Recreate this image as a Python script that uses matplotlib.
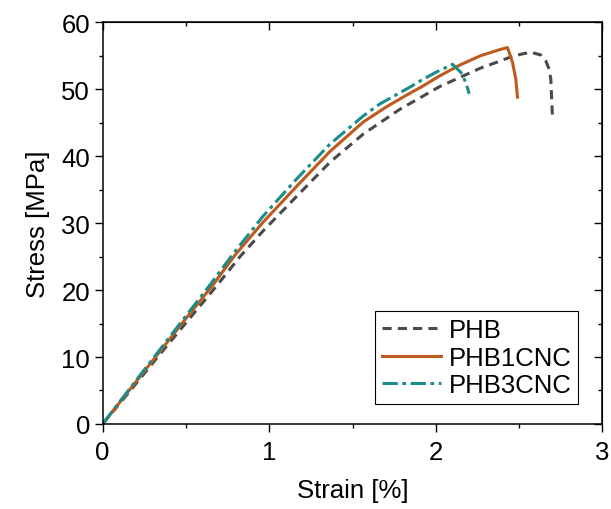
import matplotlib.pyplot as plt
from matplotlib.ticker import MultipleLocator

# Courbes contrainte-déformation
phb_strain = [0, 0.17, 0.34, 0.51, 0.68, 0.825, 0.962, 1.165, 1.365, 1.565, 1.785,
              2.025, 2.265, 2.365, 2.45, 2.51, 2.57, 2.63, 2.66, 2.68, 2.69, 2.70]
phb_stress = [0, 5.1, 10.3, 15.4, 20.5, 25.0, 28.8, 34.0, 39.1, 43.3, 47.0,
              50.4, 53.1, 54.0, 54.8, 55.2, 55.5, 55.1, 54.2, 53.0, 51.5, 45.8]

cnc1_strain = [0, 0.165, 0.33, 0.495, 0.66, 0.794, 0.962, 1.165, 1.365, 1.565, 1.70,
               1.845, 1.905, 2.025, 2.145, 2.27, 2.385, 2.43, 2.46, 2.48, 2.49]
cnc1_stress = [0, 5.2, 10.4, 15.6, 20.7, 25.2, 30.1, 35.5, 40.7, 45.1, 47.3,
               49.4, 50.2, 52.0, 53.6, 55.0, 55.9, 56.2, 54.0, 51.5, 48.8]

cnc3_strain = [0, 0.16, 0.325, 0.48, 0.63, 0.78, 0.962, 1.165, 1.365, 1.565, 1.665,
               1.845, 1.905, 2.0, 2.085, 2.10, 2.15, 2.18, 2.20]
cnc3_stress = [0, 5.2, 10.5, 15.5, 20.3, 25.3, 31.0, 36.6, 41.8, 46.0, 47.8,
               50.3, 51.2, 52.5, 53.5, 53.7, 52.5, 51.0, 49.3]

plt.rcParams['font.family'] = ['Liberation Sans', 'DejaVu Sans']
plt.rcParams['font.size'] = 18.5

fig = plt.figure(figsize=(6.11, 5.10), dpi=100)
ax = fig.add_axes([0.168, 0.1667, 0.818, 0.788])

ax.plot(phb_strain, phb_stress, color="#4a4a4a", linewidth=2.2,
        linestyle=(0, (3, 2)), label="PHB")
ax.plot(cnc1_strain, cnc1_stress, color="#bf5a1c", linewidth=2.2,
        linestyle="-", label="PHB1CNC")
ax.plot(cnc3_strain, cnc3_stress, color="#1b8c88", linewidth=2.2,
        linestyle=(0, (5, 1.5, 1.2, 1.5)), label="PHB3CNC")

ax.set_xlim(0, 3)
ax.set_ylim(0, 60)
ax.xaxis.set_major_locator(MultipleLocator(1))
ax.xaxis.set_minor_locator(MultipleLocator(0.5))
ax.yaxis.set_major_locator(MultipleLocator(10))
ax.yaxis.set_minor_locator(MultipleLocator(5))
ax.tick_params(which="major", direction="out", length=5.5, width=1)
ax.tick_params(which="minor", direction="out", length=3, width=1)
ax.tick_params(axis="x", pad=6)

# axes opposés : graduations vers l'intérieur, sans étiquettes
top = ax.secondary_xaxis("top")
top.xaxis.set_major_locator(MultipleLocator(1))
top.xaxis.set_minor_locator(MultipleLocator(0.5))
top.tick_params(which="major", direction="in", length=5.5, width=1, labeltop=False)
top.tick_params(which="minor", direction="in", length=3, width=1)
right = ax.secondary_yaxis("right")
right.yaxis.set_major_locator(MultipleLocator(10))
right.yaxis.set_minor_locator(MultipleLocator(5))
right.tick_params(which="major", direction="in", length=5.5, width=1, labelright=False)
right.tick_params(which="minor", direction="in", length=3, width=1)

for spine in ax.spines.values():
    spine.set_linewidth(1.1)

ax.set_xlabel("Strain [%]", labelpad=10)
ax.set_ylabel("Stress [MPa]", labelpad=8)

leg = ax.legend(loc="lower right", bbox_to_anchor=(0.951, 0.05), borderaxespad=0,
                fancybox=False, framealpha=1, edgecolor="black",
                handlelength=2.3, handletextpad=0.3, labelspacing=0.15,
                borderpad=0.25)
leg.get_frame().set_linewidth(0.8)

fig.savefig("out.png", dpi=100)
